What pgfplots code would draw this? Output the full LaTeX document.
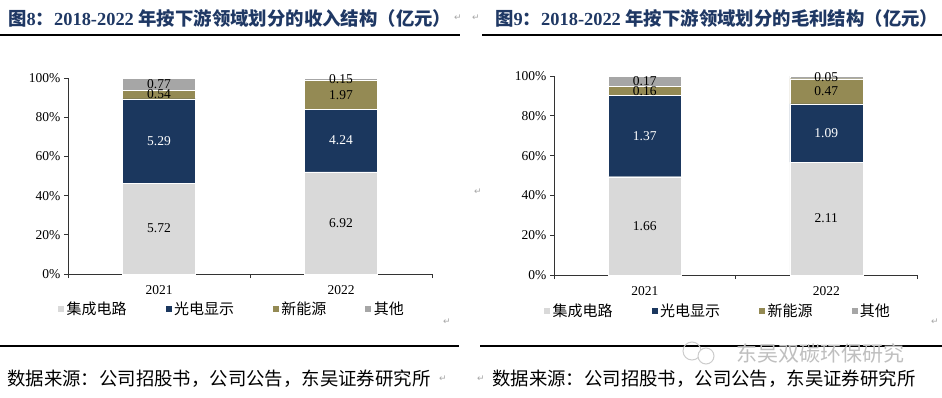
\documentclass[border=0pt]{standalone}
\usepackage{pgfplots}
\pgfplotsset{compat=1.18}
\usepackage{pgfplotstable}
\usepackage{fontspec}
\setmainfont{Liberation Serif}
\newfontfamily\cjk{Noto Sans CJK SC}
\newfontfamily\dejavu{DejaVu Sans}
\definecolor{cIC}{HTML}{D9D9D9}
\definecolor{cOP}{HTML}{1B375E}
\definecolor{cNE}{HTML}{948A54}
\definecolor{cOT}{HTML}{A6A6A6}
\definecolor{ttl}{HTML}{1F3864}

% revenue (亿元)
\pgfplotstableread{
x ic op ne ot
0 5.72 5.29 0.54 0.77
1 6.92 4.24 1.97 0.15
}\rev
% gross profit (亿元)
\pgfplotstableread{
x ic op ne ot
0 1.66 1.37 0.16 0.17
1 2.11 1.09 0.47 0.05
}\gp

\pgfplotsset{
  stackstyle/.style={
    scale only axis, ybar stacked, bar width=73pt,
    xmin=-0.5, xmax=1.5, ymin=0, ymax=100.02, clip=false,
    axis x line*=bottom, axis y line*=left,
    axis line style={line width=0.8pt, black!80},
    xtick={-0.5,0.5,1.5}, xticklabels={},
    extra x ticks={0,1}, extra x tick labels={2021,2022},
    extra x tick style={major tick length=0pt, tick label style={yshift=-8pt}},
    ytick={0,20,40,60,80,100},
    yticklabel={\pgfmathprintnumber{\tick}\%},
    tick style={line width=0.8pt, black!80},
    major tick length=4pt, tick align=outside,
    tick label style={font=\fontsize{13.5}{13.5}\selectfont},
    /pgf/number format/assume math mode=true,
    point meta=explicit,
    nodes near coords={\pgfmathprintnumber[fixed,fixed zerofill,precision=2]{\pgfplotspointmeta}},
    nodes near coords style={font=\fontsize{13.5}{13.5}\selectfont, inner sep=0pt},
    legend columns=4,
    legend image code/.code={\fill[##1] (0pt,-3.5pt) rectangle (7pt,3.5pt);},
    legend style={draw=none, fill=none, font=\cjk\fontsize{15}{15}\selectfont, anchor=west,
      inner sep=0pt, /tikz/every even column/.append style={column sep=36pt}},
  },
  seg/.style={fill=#1, draw=white, line width=0.4pt},
}

\begin{document}
\begin{tikzpicture}
\useasboundingbox (0,0) rectangle (942pt,397pt);

% titles and rules
\node[anchor=west, text=ttl, inner sep=0pt] at (8pt,379pt)
  {\fontsize{18.4}{18.4}\selectfont{\cjk\bfseries 图}{\bfseries 8}{\cjk\bfseries ：}{\bfseries 2018-2022 }{\cjk\bfseries 年按下游领域划分的收入结构（亿元）}};
\node[anchor=west, text=ttl, inner sep=0pt] at (495pt,379pt)
  {\fontsize{18.4}{18.4}\selectfont{\cjk\bfseries 图}{\bfseries 9}{\cjk\bfseries ：}{\bfseries 2018-2022 }{\cjk\bfseries 年按下游领域划分的毛利结构（亿元）}};
\draw[line width=1.3pt] (0pt,362pt) -- (460pt,362pt);
\draw[line width=1.3pt] (482pt,362pt) -- (942pt,362pt);
\draw[line width=1.3pt] (0pt,51pt) -- (459pt,51pt);
\draw[line width=1.3pt] (480pt,51pt) -- (942pt,51pt);

% watermark
\draw[black!20, line width=1pt] (692pt,46pt) circle (9pt);
\draw[black!20, line width=1pt, fill=white] (706pt,41pt) circle (8pt);
\node[text=black!25, inner sep=0pt] at (820pt,44pt) {\cjk\fontsize{21}{21}\selectfont 东吴双碳环保研究};

% sources
\node[anchor=west, inner sep=0pt] at (7pt,18pt) {\cjk\fontsize{18.4}{18.4}\selectfont 数据来源：公司招股书，公司公告，东吴证券研究所};
\node[anchor=west, inner sep=0pt] at (492pt,18pt) {\cjk\fontsize{18.4}{18.4}\selectfont 数据来源：公司招股书，公司公告，东吴证券研究所};

% paragraph marks
\foreach \px/\py in {458/379, 476/379, 447/75, 478/205, 935/75, 443/18, 481/18}
  \node[text=black!35, inner sep=0pt] at (\px pt,\py pt) {\dejavu\fontsize{9}{9}\selectfont ↵};

% left chart
\begin{axis}[stackstyle, at={(68pt,123pt)}, anchor=south west, width=364pt, height=196pt,
  legend style={at={(-0.03,-0.179)}}]
\addplot[seg=cIC] table[x=x, y expr=\thisrow{ic}/(\thisrow{ic}+\thisrow{op}+\thisrow{ne}+\thisrow{ot})*100, meta=ic] {\rev};
\addplot[seg=cOP, nodes near coords style={text=white}] table[x=x, y expr=\thisrow{op}/(\thisrow{ic}+\thisrow{op}+\thisrow{ne}+\thisrow{ot})*100, meta=op] {\rev};
\addplot[seg=cNE] table[x=x, y expr=\thisrow{ne}/(\thisrow{ic}+\thisrow{op}+\thisrow{ne}+\thisrow{ot})*100, meta=ne] {\rev};
\addplot[seg=cOT] table[x=x, y expr=\thisrow{ot}/(\thisrow{ic}+\thisrow{op}+\thisrow{ne}+\thisrow{ot})*100, meta=ot] {\rev};
\legend{集成电路,光电显示,新能源,其他}
\end{axis}

% right chart
\begin{axis}[stackstyle, at={(554pt,122pt)}, anchor=south west, width=363pt, height=199pt,
  legend style={at={(-0.03,-0.181)}}]
\addplot[seg=cIC] table[x=x, y expr=\thisrow{ic}/(\thisrow{ic}+\thisrow{op}+\thisrow{ne}+\thisrow{ot})*100, meta=ic] {\gp};
\addplot[seg=cOP, nodes near coords style={text=white}] table[x=x, y expr=\thisrow{op}/(\thisrow{ic}+\thisrow{op}+\thisrow{ne}+\thisrow{ot})*100, meta=op] {\gp};
\addplot[seg=cNE] table[x=x, y expr=\thisrow{ne}/(\thisrow{ic}+\thisrow{op}+\thisrow{ne}+\thisrow{ot})*100, meta=ne] {\gp};
\addplot[seg=cOT] table[x=x, y expr=\thisrow{ot}/(\thisrow{ic}+\thisrow{op}+\thisrow{ne}+\thisrow{ot})*100, meta=ot] {\gp};
\legend{集成电路,光电显示,新能源,其他}
\end{axis}
\end{tikzpicture}
\end{document}
